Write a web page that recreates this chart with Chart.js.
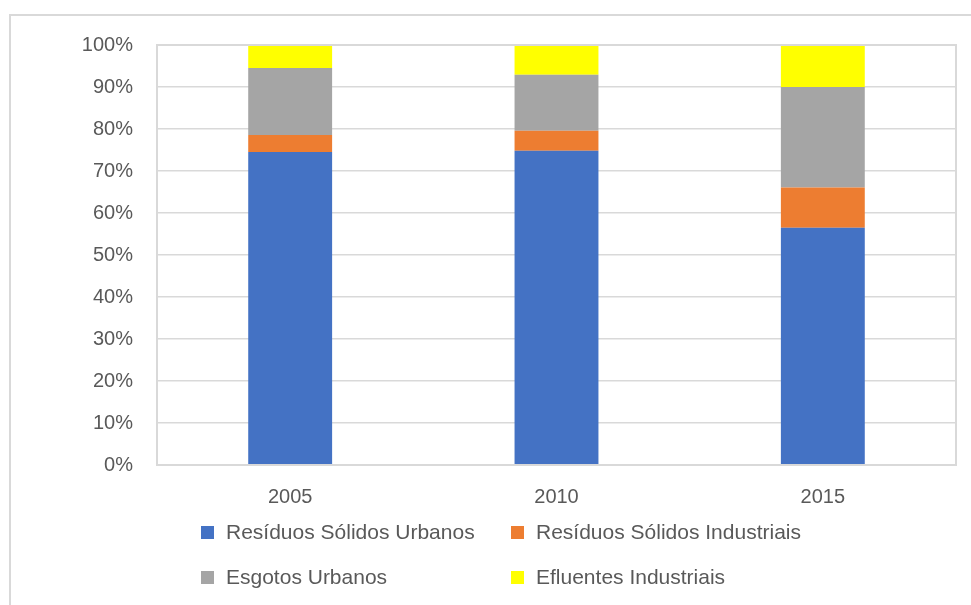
<!DOCTYPE html>
<html>
<head>
<meta charset="utf-8">
<script src="https://cdn.jsdelivr.net/npm/chart.js@4"></script>
<style>
  body { margin: 0; background: #fff; }
  #wrap { position: relative; width: 971px; height: 605px; overflow: hidden; }
  #frame { position: absolute; left: 9px; top: 14px; width: 1200px; height: 800px; border: 2px solid #d9d9d9; box-sizing: border-box; }
  canvas { position: absolute; left: 0; top: 0; }
  #legend { position: absolute; left: 201px; top: 520px; display: grid; grid-template-columns: 310px 300px; row-gap: 21px;
            font-family: "Liberation Sans", Arial, sans-serif; font-size: 21px; color: #595959; }
  #legend div { display: flex; align-items: center; height: 24px; white-space: nowrap; }
  #legend span.box { width: 13px; height: 13px; margin-right: 12px; display: inline-block; }
</style>
</head>
<body>
<div id="wrap">
  <div id="frame"></div>
  <canvas id="c" width="971" height="605"></canvas>
  <div id="legend"></div>
</div>
<script>
// years on the x axis
const years = ['2005', '2010', '2015'];

// share of each source (%)
const residuosUrbanos = [74.5, 74.8, 56.5];
const residuosIndustriais = [4.1, 4.8, 9.6];
const esgotosUrbanos = [15.9, 13.3, 23.9];
const efluentesIndustriais = [5.5, 7.1, 10.0];

const seriesNames = ['Resíduos Sólidos Urbanos', 'Resíduos Sólidos Industriais', 'Esgotos Urbanos', 'Efluentes Industriais'];
const seriesColors = ['#4472c4', '#ed7d31', '#a5a5a5', '#ffff00'];
const allSeries = [residuosUrbanos, residuosIndustriais, esgotosUrbanos, efluentesIndustriais];

const font = { family: '"Liberation Sans", Arial, sans-serif', size: 20 };

// border round the plot area
const plotBox = {
  id: 'plotBox',
  afterDraw(chart) {
    const a = chart.chartArea, ctx = chart.ctx;
    ctx.save();
    ctx.strokeStyle = '#d9d9d9';
    ctx.lineWidth = 2;
    ctx.strokeRect(a.left, a.top, a.right - a.left, a.bottom - a.top);
    ctx.restore();
  }
};

const ctx = document.getElementById('c').getContext('2d');
const chart = new Chart(ctx, {
  type: 'bar',
  data: {
    labels: years,
    datasets: allSeries.map((vals, i) => ({
      label: seriesNames[i],
      data: vals,
      backgroundColor: seriesColors[i],
      categoryPercentage: 1,
      barPercentage: 0.315
    }))
  },
  options: {
    responsive: false,
    animation: false,
    layout: { padding: { top: 45, right: 15, left: 0, bottom: 0 } },
    plugins: {
      legend: { display: false },
      tooltip: { enabled: false }
    },
    scales: {
      x: {
        stacked: true,
        grid: { display: false, drawTicks: false },
        border: { display: false },
        ticks: { font: font, color: '#595959', padding: 20 },
        afterFit(scale) { scale.height = 140; }
      },
      y: {
        stacked: true,
        min: 0,
        max: 100,
        grid: { color: '#d9d9d9', lineWidth: 1.5, drawTicks: false },
        border: { display: false },
        ticks: { stepSize: 10, font: font, color: '#595959', padding: 24,
                 callback: v => v + '%' },
        afterFit(scale) { scale.width = 157; }
      }
    }
  },
  plugins: [plotBox]
});

// legend laid out in two columns, like the original
const legend = document.getElementById('legend');
chart.data.datasets.forEach(ds => {
  const item = document.createElement('div');
  const box = document.createElement('span');
  box.className = 'box';
  box.style.background = ds.backgroundColor;
  item.appendChild(box);
  item.appendChild(document.createTextNode(ds.label));
  legend.appendChild(item);
});
</script>
</body>
</html>
